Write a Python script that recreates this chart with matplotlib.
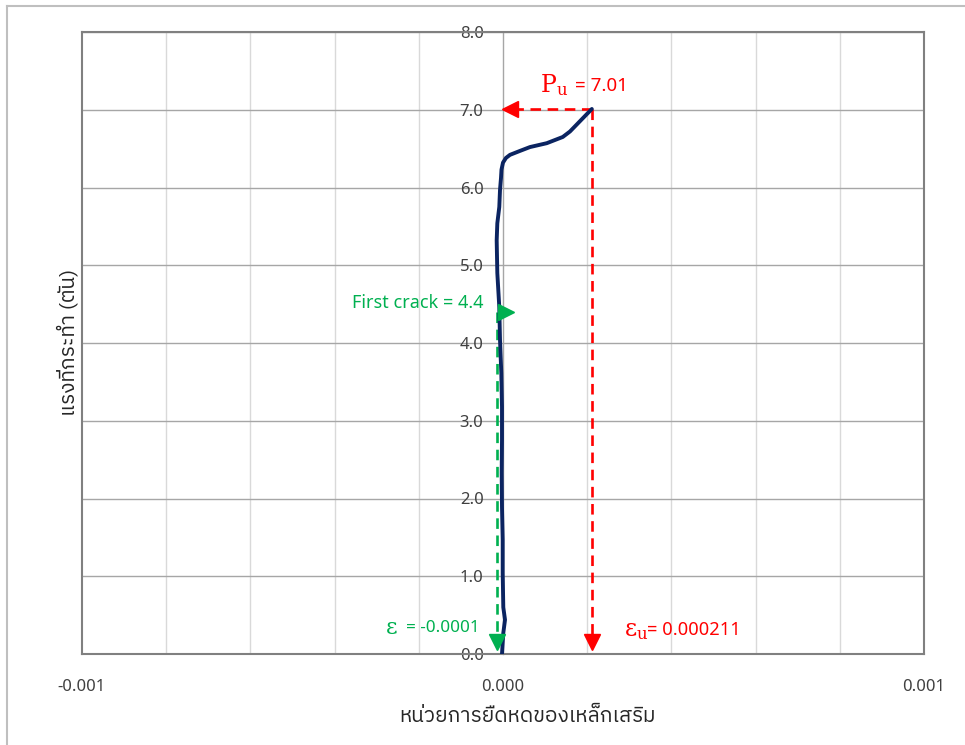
import matplotlib
matplotlib.use("Agg")
import matplotlib.pyplot as plt
import matplotlib.transforms as mtransforms
from matplotlib import font_manager as fm
from matplotlib.ft2font import FT2Font
from matplotlib.lines import Line2D

# ---------------- data ----------------
strain = [-2.4e-6, 0.7e-6, 4.8e-6, 0.7e-6, -0.7e-6, -0.7e-6, -2.4e-6, -3.1e-6,
          -2.4e-6, -2.4e-6, -4.0e-6, -7.1e-6, -8.8e-6, -13.5e-6, -15.0e-6,
          -13.5e-6, -8.8e-6, -7.1e-6, -4.8e-6, -3.6e-6, 0.0, 7e-6, 16.6e-6,
          40e-6, 64e-6, 104e-6, 142e-6, 159e-6, 211e-6]
load = [0.00, 0.27, 0.44, 0.60, 1.04, 1.47, 1.89, 2.33, 2.75, 3.18, 3.61,
        4.04, 4.46, 4.90, 5.32, 5.54, 5.75, 5.97, 6.12, 6.23, 6.32, 6.38,
        6.42, 6.47, 6.52, 6.57, 6.65, 6.72, 7.01]

pu_load = 7.01
eu_strain = 0.000211
crack_load = 4.4
crack_strain = -0.000015

yticks = [0, 1, 2, 3, 4, 5, 6, 7, 8]
ytick_labels = ["0.0", "1.0", "2.0", "3.0", "4.0", "5.0", "6.0", "7.0", "8.0"]
xticks = [-0.001, 0.0, 0.001]
xtick_labels = ["-0.001", "0.000", "0.001"]
xminor = [-0.0008, -0.0006, -0.0004, -0.0002, 0.0002, 0.0004, 0.0006, 0.0008]

xlabel = "หน่วยการยืดหดของเหล็กเสริม"
ylabel = "แรงที่กระทำ (ตัน)"

# ---------------- fonts ----------------
def find_thai_font():
    prefs = []
    for f in fm.fontManager.ttflist:
        try:
            ft = FT2Font(f.fname)
            cmap = ft.get_charmap()
            if 0x0E01 in cmap and 0x0E48 in cmap:
                prefs.append(f.name)
        except Exception:
            pass
    for p in prefs:
        if "Sans" in p or "Thai" in p:
            return p
    return prefs[0] if prefs else None

thai = find_thai_font()
base = ["Noto Sans", "DejaVu Sans"]
thai_fam = ([thai] if thai else []) + ["DejaVu Sans"]
plt.rcParams["font.family"] = base
plt.rcParams["mathtext.fontset"] = "custom"
plt.rcParams["mathtext.rm"] = "DejaVu Serif"
plt.rcParams["mathtext.it"] = "DejaVu Serif"

RED = "#FF0000"
GREEN = "#00B050"
NAVY = "#0B2461"
TICKC = "#404040"

# ---------------- figure ----------------
W, H = 965, 745
fig = plt.figure(figsize=(W / 100, H / 100), dpi=100)
L, R, T, B = 82, 924, 32, 654
ax = fig.add_axes([L / W, 1 - B / H, (R - L) / W, (B - T) / H])

ax.set_xlim(-0.001, 0.001)
ax.set_ylim(0, 8)

# gridlines
for xv in xminor:
    ax.axvline(xv, color="#d9d9d9", lw=1.0, zorder=0)
for yv in yticks[1:]:
    ax.axhline(yv, color="#a6a6a6", lw=1.0, zorder=0)

# spines: frame gray; left spine moved to x=0
for s in ["top", "right", "bottom"]:
    ax.spines[s].set_color("#808080")
    ax.spines[s].set_linewidth(1.5)
ax.spines["left"].set_position(("data", 0))
ax.spines["left"].set_color("#a6a6a6")
ax.spines["left"].set_linewidth(1.0)
ax.axvline(-0.001, color="#808080", lw=1.5, zorder=3, clip_on=False)

ax.set_yticks(yticks)
ax.set_yticklabels(ytick_labels)
ax.set_xticks(xticks)
ax.set_xticklabels(xtick_labels)
ax.tick_params(axis="y", length=0, pad=14, labelsize=12, labelcolor=TICKC)
ax.tick_params(axis="x", length=0, pad=18, labelsize=12, labelcolor=TICKC)

# curve
ax.plot(strain, load, color=NAVY, lw=2.8, solid_joinstyle="round",
        solid_capstyle="round", zorder=5)

# red annotations
ax.plot([eu_strain, 0], [pu_load, pu_load], color=RED, lw=1.9,
        dashes=(4, 2.5), zorder=4)
ax.plot([eu_strain, eu_strain], [pu_load, 0.15], color=RED, lw=1.9,
        dashes=(4, 2.5), zorder=4)
off_r = mtransforms.offset_copy(ax.transData, fig=fig, x=7, y=0, units="dots")
ax.plot([0], [pu_load], marker="<", color=RED, markersize=11, transform=off_r,
        zorder=6, clip_on=False)
off_d = mtransforms.offset_copy(ax.transData, fig=fig, x=0, y=12, units="dots")
ax.plot([eu_strain], [0], marker="v", color=RED, markersize=11, transform=off_d,
        zorder=6)

# green annotations
ax.plot([crack_strain, crack_strain], [crack_load, 0.15], color=GREEN, lw=1.9,
        dashes=(4, 2.5), zorder=4)
ax.plot([crack_strain], [0], marker="v", color=GREEN, markersize=11,
        transform=off_d, zorder=6)
off_g = mtransforms.offset_copy(ax.transData, fig=fig, x=9, y=0, units="dots")
ax.plot([crack_strain], [crack_load], marker=">", color=GREEN, markersize=11,
        transform=off_g, zorder=6)

# texts
ax.text(0.000088, 7.31, r"$\mathrm{P}_{\mathrm{u}}$", color=RED, fontsize=17,
        ha="left", va="center", zorder=7)
ax.text(0.000172, 7.31, "= 7.01", color=RED, fontsize=13.5, ha="left",
        va="center", zorder=7)
ax.text(0.000288, 0.31, r"$\mathrm{\varepsilon}_{\mathrm{u}}$", color=RED,
        fontsize=17, ha="left", va="center", zorder=7)
ax.text(0.000342, 0.31, "= 0.000211", color=RED, fontsize=13.2, ha="left",
        va="center", zorder=7)
ax.text(-0.000280, 0.33, r"$\mathrm{\varepsilon}$", color=GREEN, fontsize=16,
        ha="left", va="center", zorder=7)
ax.text(-0.0000545, 0.33, "= -0.0001", color=GREEN, fontsize=12.3, ha="right",
        va="center", zorder=7)
ax.text(-0.000047, 4.51, "First crack = %.1f" % crack_load, color=GREEN,
        fontsize=13, ha="right", va="center", zorder=7)

# axis labels
fig.text(527 / W, 1 - 716 / H, xlabel, family=thai_fam, fontsize=15,
         color="#262626", ha="center", va="center")
fig.text(68 / W, 1 - 342 / H, ylabel, family=thai_fam, fontsize=15,
         color="#262626", ha="center", va="center", rotation=90)

# outer chart border
fig.add_artist(Line2D([7 / W, 7 / W], [1 - 6 / H, 0], transform=fig.transFigure,
                      color="#bfbfbf", lw=1.5))
fig.add_artist(Line2D([7 / W, 1], [1 - 6 / H, 1 - 6 / H],
                      transform=fig.transFigure, color="#bfbfbf", lw=1.5))

fig.savefig("out.png", dpi=100)
